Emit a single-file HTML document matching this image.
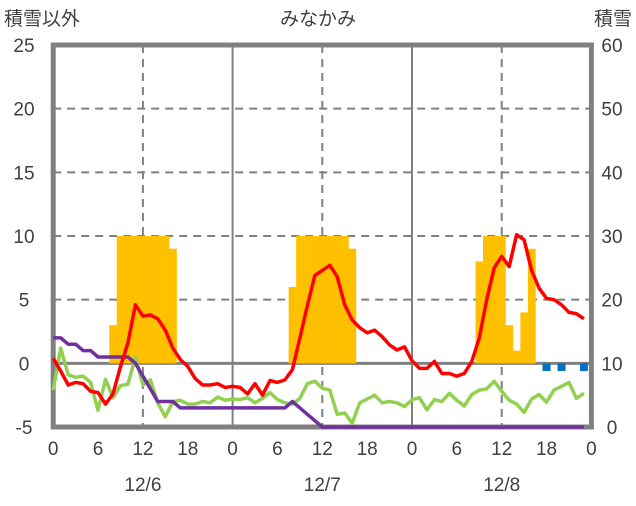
<!DOCTYPE html>
<html><head><meta charset="utf-8"><style>
body{margin:0;background:#fff}
svg text{font-family:"Liberation Sans","Noto Sans CJK JP",sans-serif;fill:#404040;font-size:19px}
</style></head><body>
<svg id="c" width="636" height="501" viewBox="0 0 636 501">
<text x="4" y="25">積雪以外</text>
<text x="318" y="25" text-anchor="middle">みなかみ</text>
<text x="632" y="25" text-anchor="end">積雪</text>
<g id="grid"></g><g id="bars"></g><g id="frame"></g><g id="lines"></g><g id="axes"></g>
</svg>
<script>
const hours=[...Array(72).keys()];
const snowfall=[0,0,0,0,0,0,0,0,3,10,10,10,10,10,10,10,9,0,0,0,0,0,0,0,0,0,0,0,0,0,0,0,6,10,10,10,10,10,10,10,9,0,0,0,0,0,0,0,0,0,0,0,0,0,0,0,0,8,10,10,10,3,1,4,9,0,0,0,0,0,0,0];
const precipNeg=[{h:66,v:-0.6},{h:68,v:-0.6},{h:71,v:-0.6}];
const temperature=[0.4,-0.6,-1.7,-1.5,-1.6,-2.2,-2.3,-3.2,-2.4,-0.25,1.6,4.6,3.7,3.8,3.5,2.6,1.2,0.3,-0.25,-1.2,-1.7,-1.7,-1.6,-1.9,-1.8,-1.9,-2.4,-1.6,-2.5,-1.35,-1.5,-1.3,-0.5,2.0,4.5,6.9,7.3,7.7,6.8,4.6,3.4,2.8,2.4,2.6,2.1,1.45,1.05,1.3,0.2,-0.4,-0.4,0.15,-0.8,-0.8,-1.0,-0.8,0.15,2.0,5.0,7.5,8.4,7.6,10.1,9.7,7.3,5.9,5.1,5.0,4.6,4.0,3.9,3.5];
const dewpoint=[-2.1,1.2,-0.9,-1.1,-1.0,-1.5,-3.7,-1.25,-2.7,-1.75,-1.65,0.5,-1.7,-1.3,-3.1,-4.2,-3.0,-2.9,-3.2,-3.2,-3.0,-3.1,-2.65,-2.9,-2.8,-2.85,-2.7,-3.1,-2.75,-2.3,-2.85,-3.1,-3.2,-2.75,-1.6,-1.4,-1.95,-2.1,-4.0,-3.9,-4.7,-3.1,-2.8,-2.5,-3.1,-3.0,-3.1,-3.4,-2.85,-2.7,-3.65,-2.85,-3.0,-2.35,-2.9,-3.35,-2.45,-2.1,-2.0,-1.4,-2.2,-2.9,-3.2,-3.85,-2.8,-2.45,-3.05,-2.1,-1.8,-1.5,-2.75,-2.35];
const snowDepth=[14,14,13,13,12,12,11,11,11,11,11,10,8,6,4,4,4,3,3,3,3,3,3,3,3,3,3,3,3,3,3,3,4,3,2,1,0,0,0,0,0,0,0,0,0,0,0,0,0,0,0,0,0,0,0,0,0,0,0,0,0,0,0,0,0,0,0,0,0,0,0,0];
const leftTicks=[-5,0,5,10,15,20,25];
const rightTicks=[0,10,20,30,40,50,60];
const xTickLabels=[0,6,12,18,0,6,12,18,0,6,12,18,0];
const dateLabels=["12/6","12/7","12/8"];

const X0=53.2,X1=591.4,YT=45,YB=427;
const x=h=>X0+(X1-X0)*h/72;
const yL=v=>YB-(v+5)*(YB-YT)/30;
const yR=v=>YB-v*(YB-YT)/60;
const NS="http://www.w3.org/2000/svg";
function mk(p,tag,a){const e=document.createElementNS(NS,tag);for(const k in a)e.setAttribute(k,a[k]);document.getElementById(p).appendChild(e);return e;}
for(const t of [5,10,15,20]){
 const e=mk('grid','line',{x1:X0,x2:X1,y1:yL(t),y2:yL(t),stroke:'#808080','stroke-width':2,'stroke-dasharray':'8,6'});
 
 
}
for(const h of [12,36,60]){
 const e=mk('grid','line',{x1:x(h),x2:x(h),y1:YT,y2:YB,stroke:'#808080','stroke-width':2,'stroke-dasharray':'8,6'});
 
 
}
for(const h of [24,48]){
 const e=mk('grid','line',{x1:x(h),x2:x(h),y1:YT,y2:YB,stroke:'#808080','stroke-width':2});
 
 
}
const bw=x(1)-x(0);
snowfall.forEach((v,i)=>{if(v<=0)return;
 const e=mk('bars','rect',{x:x(hours[i])-bw/2,y:yL(v),width:bw+0.3,height:yL(0)-yL(v),fill:'#FFC000'});
 
 
});
precipNeg.forEach(p=>{
 const e=mk('bars','rect',{x:x(p.h)-4,y:yL(0),width:8,height:yL(p.v)-yL(0),fill:'#0070C0'});
 
 
});
const zl=mk('grid','line',{x1:X0,x2:X1,y1:yL(0),y2:yL(0),stroke:'#808080','stroke-width':3});


const fr=mk('frame','rect',{x:X0,y:YT,width:X1-X0,height:YB-YT,fill:'none',stroke:'#808080','stroke-width':5});


function line(arr,fy,col,name){
 const pts=arr.map((v,i)=>x(hours[i]).toFixed(1)+','+fy(v).toFixed(1)).join(' ');
 const e=mk('lines','polyline',{points:pts,fill:'none',stroke:col,'stroke-width':3.5,'stroke-linejoin':'round'});
 
 
}
line(dewpoint,yL,'#92D050','dewpoint-line');
line(snowDepth,yR,'#7030A0','snow-depth-line');
line(temperature,yL,'#FF0000','temperature-line');
leftTicks.forEach(t=>{const e=mk('axes','text',{x:24,y:yL(t)+7,'text-anchor':'middle'});e.textContent=t;
 
 });
rightTicks.forEach(t=>{const e=mk('axes','text',{x:612,y:yR(t)+7,'text-anchor':'middle'});e.textContent=t;
 
 });
xTickLabels.forEach((t,i)=>{const e=mk('axes','text',{x:x(i*6),y:455,'text-anchor':'middle'});e.textContent=t;
 
 });
dateLabels.forEach((t,i)=>{const e=mk('axes','text',{x:x(i*24+12),y:491,'text-anchor':'middle'});e.textContent=t;
 
 });
</script>
</body></html>
